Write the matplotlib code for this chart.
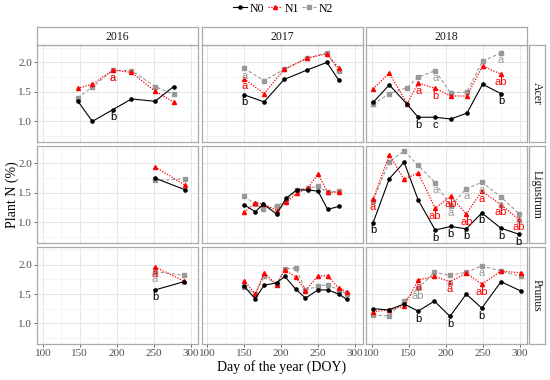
import matplotlib
matplotlib.use('Agg')
import matplotlib.pyplot as plt
from matplotlib.lines import Line2D
from matplotlib.ticker import MultipleLocator, FormatStrFormatter

plt.rcParams['font.family'] = ['Liberation Serif', 'DejaVu Serif']

years = ['2016', '2017', '2018']
species = ['Acer', 'Ligustrum', 'Prunus']
series_names = ['N0', 'N1', 'N2']

# sampling dates (DOY) and plant N (%) per panel
acer_2016_doy = [147, 167, 195, 220, 252, 277]
acer_2016_n0 = [1.35, 1.00, 1.20, 1.38, 1.34, 1.59]
acer_2016_n1 = [1.56, 1.63, 1.87, 1.83, 1.51, 1.33]
acer_2016_n2 = [1.40, 1.58, 1.87, 1.86, 1.59, 1.46]

acer_2017_doy = [150, 177, 204, 235, 262, 278]
acer_2017_n0 = [1.45, 1.33, 1.71, 1.87, 2.00, 1.70]
acer_2017_n1 = [1.72, 1.47, 1.88, 2.07, 2.15, 1.90]
acer_2017_n2 = [1.90, 1.69, 1.88, 2.07, 2.16, 1.85]

acer_2018_doy = [102, 124, 148, 163, 186, 207, 229, 250, 275]
acer_2018_n0 = [1.32, 1.62, 1.29, 1.07, 1.07, 1.04, 1.14, 1.63, 1.47]
acer_2018_n1 = [1.55, 1.82, 1.30, 1.65, 1.56, 1.43, 1.43, 1.94, 1.80]
acer_2018_n2 = [1.29, 1.47, 1.57, 1.75, 1.86, 1.48, 1.50, 2.02, 2.16]

lig_2016_doy = [252, 293]
lig_2016_n0 = [1.75, 1.55]
lig_2016_n1 = [1.94, 1.63]
lig_2016_n2 = [1.71, 1.74]

lig_2017_doy = [150, 165, 176, 194, 207, 221, 236, 250, 263, 278]
lig_2017_n0 = [1.30, 1.18, 1.31, 1.14, 1.41, 1.55, 1.55, 1.53, 1.22, 1.27]
lig_2017_n1 = [1.17, 1.33, 1.31, 1.20, 1.34, 1.49, 1.58, 1.82, 1.51, 1.51]
lig_2017_n2 = [1.44, 1.31, 1.23, 1.27, 1.37, 1.55, 1.58, 1.61, 1.51, 1.53]

lig_2018_doy = [102, 124, 144, 163, 186, 207, 228, 249, 275, 299]
lig_2018_n0 = [0.99, 1.74, 2.02, 1.38, 0.87, 0.93, 0.89, 1.16, 0.90, 0.80]
lig_2018_n1 = [1.39, 2.14, 1.73, 1.84, 1.24, 1.44, 1.14, 1.53, 1.30, 1.05]
lig_2018_n2 = [1.37, 2.03, 2.21, 1.97, 1.67, 1.28, 1.57, 1.68, 1.43, 1.15]

pru_2016_doy = [252, 291]
pru_2016_n0 = [1.57, 1.71]
pru_2016_n1 = [1.96, 1.72]
pru_2016_n2 = [1.88, 1.82]

pru_2017_doy = [150, 165, 177, 194, 205, 220, 233, 250, 263, 278, 289]
pru_2017_n0 = [1.63, 1.42, 1.65, 1.69, 1.80, 1.58, 1.43, 1.57, 1.57, 1.50, 1.41]
pru_2017_n1 = [1.73, 1.50, 1.86, 1.66, 1.91, 1.79, 1.56, 1.81, 1.81, 1.60, 1.54]
pru_2017_n2 = [1.62, 1.50, 1.80, 1.67, 1.93, 1.94, 1.57, 1.63, 1.66, 1.57, 1.50]

pru_2018_doy = [102, 123, 144, 163, 185, 206, 228, 249, 275, 302]
pru_2018_n0 = [1.25, 1.23, 1.33, 1.21, 1.38, 1.12, 1.50, 1.26, 1.71, 1.55]
pru_2018_n1 = [1.20, 1.23, 1.29, 1.74, 1.80, 1.71, 1.85, 1.67, 1.89, 1.86]
pru_2018_n2 = [1.14, 1.13, 1.38, 1.60, 1.87, 1.82, 1.87, 1.98, 1.89, 1.80]

# significance letters: (series, point index, letter)
acer_2016_letters = [('N2', 2, 'a'), ('N1', 2, 'a'), ('N0', 2, 'b')]
acer_2017_letters = [('N2', 0, 'a'), ('N1', 0, 'a'), ('N0', 0, 'b')]
acer_2018_letters = [('N1', 3, 'a'), ('N0', 3, 'b'),
                     ('N2', 4, 'a'), ('N1', 4, 'b'), ('N0', 4, 'c'),
                     ('N2', 8, 'a'), ('N1', 8, 'ab'), ('N0', 8, 'b')]
lig_2018_letters = [('N1', 0, 'a'), ('N0', 0, 'b'),
                    ('N2', 4, 'a'), ('N1', 4, 'ab'), ('N0', 4, 'b'),
                    ('N2', 5, 'a'), ('N1', 5, 'ab'), ('N0', 5, 'b'),
                    ('N2', 6, 'a'), ('N1', 6, 'ab'), ('N0', 6, 'b'),
                    ('N2', 7, 'a'), ('N1', 7, 'a'), ('N0', 7, 'b'),
                    ('N2', 8, 'a'), ('N1', 8, 'ab'), ('N0', 8, 'b'),
                    ('N2', 9, 'a'), ('N1', 9, 'ab'), ('N0', 9, 'b')]
pru_2016_letters = [('N2', 0, 'a'), ('N1', 0, 'a'), ('N0', 0, 'b')]
pru_2018_letters = [('N1', 3, 'a'), ('N2', 3, 'ab'), ('N0', 3, 'b'),
                    ('N2', 5, 'a'), ('N1', 5, 'a'), ('N0', 5, 'b'),
                    ('N2', 7, 'a'), ('N1', 7, 'ab'), ('N0', 7, 'b')]

panels = {
    ('Acer', '2016'): (acer_2016_doy, acer_2016_n0, acer_2016_n1, acer_2016_n2, acer_2016_letters),
    ('Acer', '2017'): (acer_2017_doy, acer_2017_n0, acer_2017_n1, acer_2017_n2, acer_2017_letters),
    ('Acer', '2018'): (acer_2018_doy, acer_2018_n0, acer_2018_n1, acer_2018_n2, acer_2018_letters),
    ('Ligustrum', '2016'): (lig_2016_doy, lig_2016_n0, lig_2016_n1, lig_2016_n2, []),
    ('Ligustrum', '2017'): (lig_2017_doy, lig_2017_n0, lig_2017_n1, lig_2017_n2, []),
    ('Ligustrum', '2018'): (lig_2018_doy, lig_2018_n0, lig_2018_n1, lig_2018_n2, lig_2018_letters),
    ('Prunus', '2016'): (pru_2016_doy, pru_2016_n0, pru_2016_n1, pru_2016_n2, pru_2016_letters),
    ('Prunus', '2017'): (pru_2017_doy, pru_2017_n0, pru_2017_n1, pru_2017_n2, []),
    ('Prunus', '2018'): (pru_2018_doy, pru_2018_n0, pru_2018_n1, pru_2018_n2, pru_2018_letters),
}

styles = {
    'N0': dict(color='black', ls='-', marker='o', ms=2.3, lw=0.8),
    'N1': dict(color='#FF0000', ls=(0, (1, 1.2)), marker='^', ms=2.9, lw=0.9),
    'N2': dict(color='#999999', ls=(0, (3, 2)), marker='s', ms=2.3, lw=0.8),
}
letter_colors = {'N0': 'black', 'N1': '#FF0000', 'N2': '#999999'}
border = '#AAAAAA'
tick_col = '#4D4D4D'

W, H = 550, 380
fig = plt.figure(figsize=(5.5, 3.8), dpi=100)


def px_axes(x0, y0, x1, y1):
    return fig.add_axes([x0 / W, 1 - y1 / H, (x1 - x0) / W, (y1 - y0) / H])


col_x = [(37.3, 198.3), (201.7, 362.7), (366, 527.3)]
row_y = [(45, 142.3), (146, 243.3), (247.3, 344.3)]

for r, sp in enumerate(species):
    for c, yr in enumerate(years):
        x0, x1 = col_x[c]
        y0, y1 = row_y[r]
        ax = px_axes(x0, y0, x1, y1)
        ax.set_xlim(92.5, 310.5)
        ax.set_ylim(0.645, 2.295)
        ax.xaxis.set_major_locator(MultipleLocator(50))
        ax.xaxis.set_minor_locator(MultipleLocator(25))
        ax.yaxis.set_major_locator(MultipleLocator(0.5))
        ax.yaxis.set_minor_locator(MultipleLocator(0.25))
        ax.grid(which='major', color='#E6E6E6', lw=0.7)
        ax.grid(which='minor', color='#F2F2F2', lw=0.5)
        ax.set_axisbelow(True)
        for s in ax.spines.values():
            s.set_color(border)
            s.set_linewidth(0.9)
        ax.tick_params(which='minor', length=0)
        ax.tick_params(which='major', length=2.2, width=0.6, color=tick_col,
                       labelsize=8, labelcolor=tick_col, pad=1.5)
        if c != 0:
            ax.tick_params(axis='y', length=0, labelleft=False)
        else:
            ax.yaxis.set_major_formatter(FormatStrFormatter('%.1f'))
        if r != 2:
            ax.tick_params(axis='x', length=0, labelbottom=False)

        doy, n0, n1, n2, letters = panels[(sp, yr)]
        vals = {'N0': n0, 'N1': n1, 'N2': n2}
        for name in ['N2', 'N1', 'N0']:
            st = styles[name]
            ax.plot(doy, vals[name], color=st['color'], ls=st['ls'], lw=st['lw'],
                    marker=st['marker'], ms=st['ms'], mec=st['color'], mfc=st['color'])
        for name, i, txt in letters:
            ax.annotate(txt, (doy[i], vals[name][i]), xytext=(0, -7.5),
                        textcoords='offset pixels', ha='center', va='center',
                        fontsize=8, family=['Liberation Sans', 'DejaVu Sans'],
                        color=letter_colors[name])

        # top strip
        if r == 0:
            sax = px_axes(x0, 27.3, x1, y0)
            sax.set_xticks([])
            sax.set_yticks([])
            for s in sax.spines.values():
                s.set_color(border)
                s.set_linewidth(0.9)
            sax.text(0.5, 0.45, yr, ha='center', va='center', fontsize=8.5,
                     color='#1A1A1A', transform=sax.transAxes)
    # right strip
    y0, y1 = row_y[r]
    rax = px_axes(528.5, y0, 545, y1)
    rax.set_xticks([])
    rax.set_yticks([])
    for s in rax.spines.values():
        s.set_color(border)
        s.set_linewidth(0.9)
    rax.text(0.5, 0.5, sp, ha='center', va='center', rotation=-90, fontsize=8.5,
             color='#1A1A1A', transform=rax.transAxes)

fig.text(12 / W, 1 - 195 / H, 'Plant N (%)', rotation=90, ha='center', va='center',
         fontsize=10)
fig.text(282 / W, 1 - 367 / H, 'Day of the year (DOY)', ha='center', va='center',
         fontsize=10)

handles = []
for name in series_names:
    st = styles[name]
    handles.append(Line2D([], [], color=st['color'], ls=st['ls'], lw=st['lw'],
                          marker=st['marker'], ms=st['ms'], mec=st['color'], mfc=st['color']))
fig.legend(handles, series_names, loc='center', bbox_to_anchor=(283 / W, 1 - 8.5 / H),
           ncol=3, frameon=False, fontsize=8.5, handlelength=1.2, handletextpad=0.2,
           columnspacing=0.3, borderpad=0)

fig.savefig('out.png', dpi=100)
